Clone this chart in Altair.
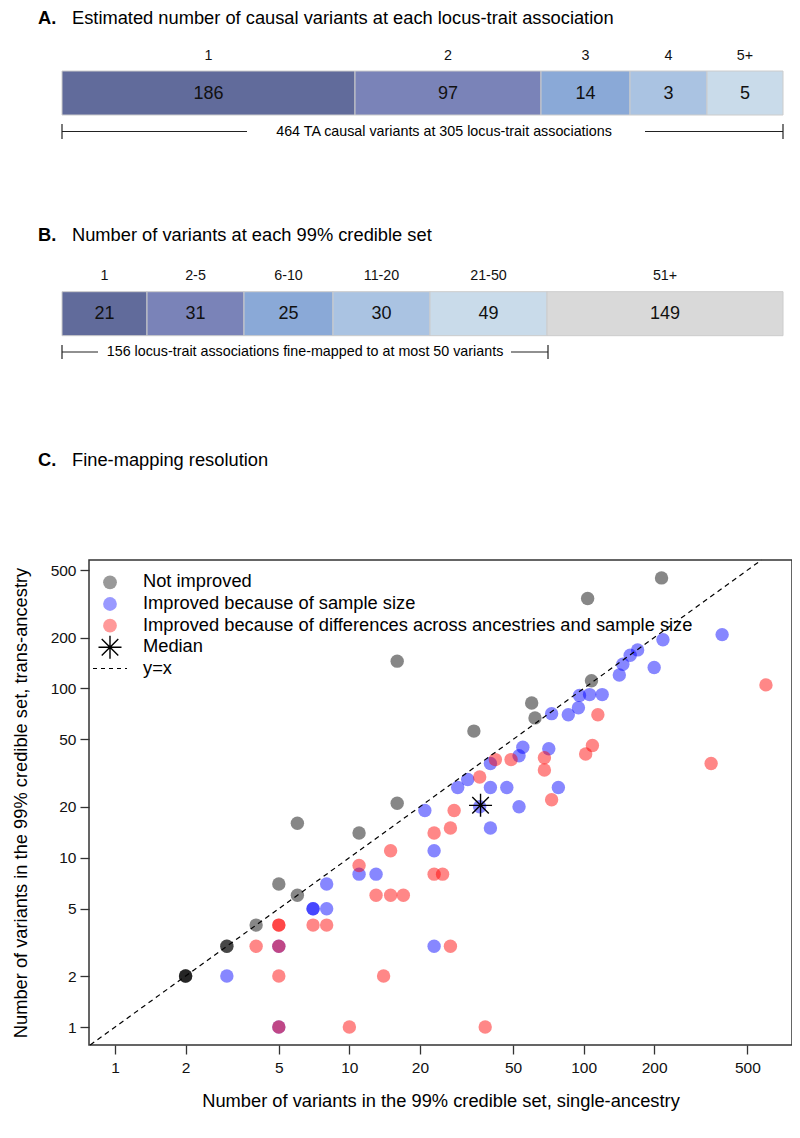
import altair as alt
import numpy as np
import pandas as pd

FONT = "Liberation Sans"

# ---------------- data ----------------
# Panel A: estimated number of causal variants per locus-trait association
A_labels = ["1", "2", "3", "4", "5+"]
A_counts = [186, 97, 14, 3, 5]
A_widths = [293, 186, 89, 77, 76]          # drawn widths (figure is not proportional)
A_colors = ["#616b9b", "#7a83b8", "#8aa9d7", "#aac3e2", "#c9dbea"]

# Panel B: number of variants in each 99% credible set
B_labels = ["1", "2-5", "6-10", "11-20", "21-50", "51+"]
B_counts = [21, 31, 25, 30, 49, 149]
B_widths = [85, 97, 89, 97, 117, 236]
B_colors = ["#616b9b", "#7a83b8", "#8aa9d7", "#aac3e2", "#c9dbea", "#d9d9d9"]

# Panel C: credible set sizes (single-ancestry, trans-ancestry)
gray_sa = [2, 2, 2, 3, 3, 4, 5, 6, 6, 11, 16, 16, 34, 60, 62, 104, 108, 215]
gray_ta = [2, 2, 2, 3, 3, 4, 7, 6, 16, 14, 21, 145, 56, 82, 67, 340, 111, 450]

blue_sa = [3, 5, 5, 7, 7, 8, 8, 11, 13, 21, 23, 23, 29, 32, 36, 40, 40, 40, 47, 53,
           53, 55, 71, 73, 78, 86, 95, 96, 106, 120, 142, 147, 158, 170, 200, 218, 390]
blue_ta = [2, 3, 1, 5, 5, 5, 7, 8, 8, 19, 11, 3, 26, 29, 20, 15, 26, 36, 26, 20,
           40, 45, 44, 71, 26, 70, 77, 91, 92, 92, 120, 139, 157, 169, 133, 194, 208]

red_sa = [4, 5, 5, 5, 5, 5, 7, 8, 10, 11, 13, 14, 15, 15, 17, 23, 23, 25, 27, 27,
          28, 36, 38, 42, 49, 68, 68, 73, 102, 109, 115, 350, 600]
red_ta = [3, 4, 4, 3, 2, 1, 4, 4, 1, 9, 6, 2, 6, 11, 6, 14, 8, 8, 15, 3,
          19, 30, 1, 38, 38, 39, 33, 22, 41, 46, 70, 36, 105]

median_sa = [36.3]
median_ta = [20.4]

group_names = ["Not improved", "Improved because of sample size",
               "Improved because of differences across ancestries and sample size"]
group_colors = ["#000000", "#0000ff", "#ff0000"]

x_ticks = [1, 2, 5, 10, 20, 50, 100, 200, 500]
y_ticks = [1, 2, 5, 10, 20, 50, 100, 200, 500]

# ---------------- layout ----------------
PAD_TOP = 10
OX, OY = 89, 8 + PAD_TOP   # page position of the group origin
W, H = 703, 1045 - OY      # plot group size (bottom of group = scatter x axis)
TXT = 18.3                 # main text size


def gx(px):
    return px - OX


def gy(py):
    return py - OY


def seg_df(labels, counts, widths, colors):
    end = np.cumsum(widths)
    start = end - np.array(widths)
    return pd.DataFrame({"label": labels, "count": counts, "start": start,
                         "end": end, "mid": (start + end) / 2, "color": colors})


dfA = seg_df(A_labels, A_counts, A_widths, A_colors)
dfB = seg_df(B_labels, B_counts, B_widths, B_colors)
one = pd.DataFrame({"k": [0]})


def bar_scale():
    return alt.Scale(domain=[0, int(sum(A_widths))], range=[gx(62), gx(783)])


def bars(df, top, bottom, label_y, value_y):
    r = alt.Chart(df).mark_rect(stroke="#cccccc", strokeWidth=1).encode(
        x=alt.X("start:Q", scale=bar_scale(), axis=None), x2="end:Q",
        y=alt.value(gy(top)), y2=alt.value(gy(bottom)),
        fill=alt.Fill("color:N", scale=None))
    v = alt.Chart(df).mark_text(font=FONT, fontSize=18, color="#111111").encode(
        x=alt.X("mid:Q", scale=bar_scale(), axis=None), y=alt.value(gy(value_y)),
        text="count:Q")
    c = alt.Chart(df).mark_text(font=FONT, fontSize=14.3, color="#111111").encode(
        x=alt.X("mid:Q", scale=bar_scale(), axis=None), y=alt.value(gy(label_y)),
        text="label:N")
    return [r, v, c]


def text(s, px, py, size=TXT, weight="normal", align="left"):
    return alt.Chart(one).mark_text(font=FONT, fontSize=size, fontWeight=weight,
                                    align=align, baseline="middle", color="#000000").encode(
        x=alt.value(gx(px)), y=alt.value(gy(py)), text=alt.value(s))


titles = [
    text("A.", 38, 19, weight="bold"), text("Estimated number of causal variants at each locus-trait association", 72, 19),
    text("B.", 38, 236, weight="bold"), text("Number of variants at each 99% credible set", 72, 236),
    text("C.", 38, 461, weight="bold"), text("Fine-mapping resolution", 72, 461),
    text("464 TA causal variants at 305 locus-trait associations", 444, 131.5, size=14.3, align="center"),
    text("156 locus-trait associations fine-mapped to at most 50 variants", 305, 352, size=14.3, align="center"),
]

br = pd.DataFrame({
    "x":  [62, 645, 62, 783, 62, 511, 62, 548],
    "x2": [247, 783, 62, 783, 98, 548, 62, 548],
    "y":  [131.5, 131.5, 124, 124, 352, 352, 345, 345],
    "y2": [131.5, 131.5, 139, 139, 352, 352, 359, 359],
})
br = br.assign(x=br.x - OX, x2=br.x2 - OX, y=br.y - OY, y2=br.y2 - OY)
brackets = alt.Chart(br).mark_rule(color="#222222", strokeWidth=1.2).encode(
    x=alt.X("x:Q", scale=None, axis=None), x2="x2:Q",
    y=alt.Y("y:Q", scale=None, axis=None), y2="y2:Q")

# ---------------- scatter ----------------
pts = pd.concat([
    pd.DataFrame({"sa": gray_sa, "ta": gray_ta, "color": group_colors[0]}),
    pd.DataFrame({"sa": blue_sa, "ta": blue_ta, "color": group_colors[1]}),
    pd.DataFrame({"sa": red_sa, "ta": red_ta, "color": group_colors[2]}),
], ignore_index=True)


def xs():
    return alt.Scale(type="log", domain=[0.774, 775], range=[0, W])


def ys():
    return alt.Scale(type="log", domain=[0.783, 574], range=[gy(1045), gy(560)])


x_axis = alt.Axis(values=x_ticks, format="d", grid=False, domain=False, orient="bottom",
                  tickSize=9, tickColor="#333333", tickWidth=1.3,
                  labelFont=FONT, labelFontSize=15.5, labelColor="#111111", labelPadding=6,
                  title="Number of variants in the 99% credible set, single-ancestry",
                  titleFont=FONT, titleFontSize=TXT, titleFontWeight="normal",
                  titleColor="#000000", titlePadding=17)
y_axis = alt.Axis(values=y_ticks, format="d", grid=False, domain=False, orient="left",
                  tickSize=9, tickColor="#333333", tickWidth=1.3,
                  labelFont=FONT, labelFontSize=15.5, labelColor="#111111", labelPadding=4,
                  title="Number of variants in the 99% credible set, trans-ancestry",
                  titleFont=FONT, titleFontSize=TXT, titleFontWeight="normal",
                  titleColor="#000000", titlePadding=20)

points = alt.Chart(pts).mark_circle(size=180, opacity=0.47).encode(
    x=alt.X("sa:Q", scale=xs(), axis=x_axis),
    y=alt.Y("ta:Q", scale=ys(), axis=y_axis),
    color=alt.Color("color:N", scale=None))

diag_df = pd.DataFrame({"v": [0.783, 574]})
diag = alt.Chart(diag_df).mark_line(color="#000000", strokeDash=[5, 4], strokeWidth=1.2).encode(
    x=alt.X("v:Q", scale=xs(), axis=None), y=alt.Y("v:Q", scale=ys(), axis=None))

STAR = "M-1,0L1,0M0,-1L0,1M-0.72,-0.72L0.72,0.72M-0.72,0.72L0.72,-0.72"
med = alt.Chart(pd.DataFrame({"sa": median_sa, "ta": median_ta})).mark_point(
    shape=STAR, size=529, filled=False, stroke="#000000", strokeWidth=1.4, opacity=1).encode(
    x=alt.X("sa:Q", scale=xs(), axis=None), y=alt.Y("ta:Q", scale=ys(), axis=None))

frame = alt.Chart(one).mark_rect(fillOpacity=0, stroke="#333333", strokeWidth=1.5).encode(
    x=alt.value(0), x2=alt.value(W), y=alt.value(gy(560)), y2=alt.value(gy(1045)))

# ---------------- legend ----------------
leg_rows = [582.3, 604, 625.7, 647.3, 668.5]
leg_pts = pd.DataFrame({"py": [r - OY for r in leg_rows[:3]], "color": group_colors})
leg_circles = alt.Chart(leg_pts).mark_circle(size=190, opacity=0.4).encode(
    x=alt.value(gx(110)), y=alt.Y("py:Q", scale=None, axis=None),
    color=alt.Color("color:N", scale=None))
leg_star = alt.Chart(one).mark_point(shape=STAR, size=529, filled=False, stroke="#000000",
                                     strokeWidth=1.4, opacity=1).encode(
    x=alt.value(gx(110)), y=alt.value(gy(leg_rows[3])))
leg_line = alt.Chart(one).mark_rule(color="#000000", strokeDash=[4, 4], strokeWidth=1.2).encode(
    x=alt.value(gx(93)), x2=alt.value(gx(127)), y=alt.value(gy(leg_rows[4])))
leg_texts = [text(s, 143, r) for s, r in zip(group_names + ["Median", "y=x"], leg_rows)]

layers = ([points, frame] + bars(dfA, 71, 115, 56, 93.5) + bars(dfB, 291.7, 335.7, 276, 314)
          + titles + [brackets, diag, med, leg_circles, leg_star, leg_line] + leg_texts)

chart = alt.layer(*layers).resolve_scale(x="independent", y="independent").properties(
    width=W, height=H,
    padding={"left": OX - 8, "top": PAD_TOP, "right": 0, "bottom": 78},
    autosize=alt.AutoSizeParams(type="none"),
).configure_view(stroke=None)

chart.save("out.html", embed_options={"renderer": "svg", "actions": False})
